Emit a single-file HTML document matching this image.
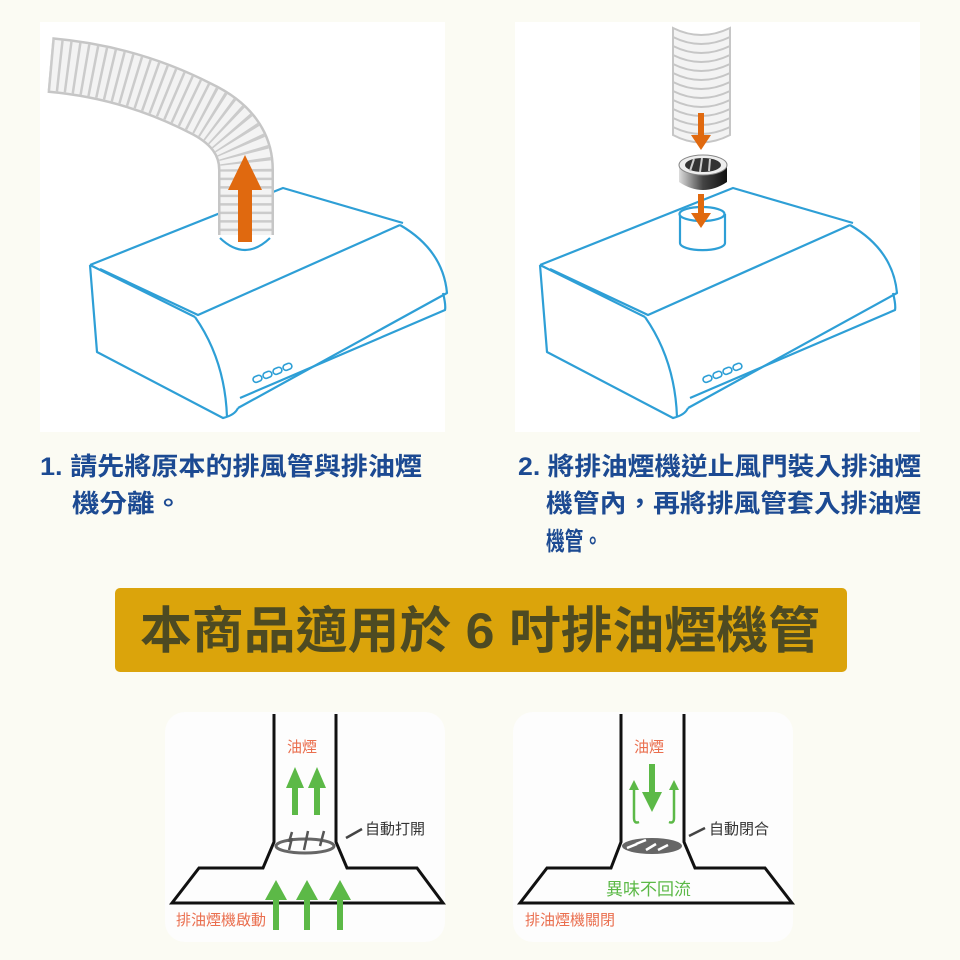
<!DOCTYPE html>
<html><head><meta charset="utf-8"><style>
body{margin:0;background:#fbfbf3;}
svg{display:block}
text{font-family:"Liberation Sans","Noto Sans CJK TC",sans-serif}
</style></head><body>
<svg width="960" height="960" viewBox="0 0 960 960" xmlns="http://www.w3.org/2000/svg">
<defs>
<linearGradient id="dg" x1="0" x2="1"><stop offset="0" stop-color="#ddd"/><stop offset=".5" stop-color="#444"/><stop offset="1" stop-color="#111"/></linearGradient>
<g id="hood" fill="none" stroke="#2e9fd6" stroke-width="2.2" stroke-linejoin="round">
<path d="M540 265 L733 188 L853 223"/>
<path d="M540 265 L645 317 M550 269 L648 315 L850 225"/>
<path d="M850 225 Q893 250 897 293 L688 408"/>
<path d="M540 265 L547 352 L673 418 Q685 415 688 408"/>
<path d="M645 317 Q675 360 677 417"/>
<path d="M893 293 Q896 305 895 310 L690 398"/>
<g stroke-width="1.6"><rect x="703" y="376" width="9" height="6" rx="3" transform="rotate(-22 707 379)"/><rect x="713" y="372" width="9" height="6" rx="3" transform="rotate(-22 717 375)"/><rect x="723" y="368" width="9" height="6" rx="3" transform="rotate(-22 727 371)"/><rect x="733" y="364" width="9" height="6" rx="3" transform="rotate(-22 737 367)"/></g>
</g>
</defs>
<rect x="40" y="22" width="405" height="410" fill="#fff"/>
<rect x="515" y="22" width="405" height="410" fill="#fff"/>
<!-- hood 1 -->
<use href="#hood" transform="translate(-450,0)"/>
<path d="M220 238 Q245 262 270 238" fill="none" stroke="#2e9fd6" stroke-width="2.2"/>
<!-- duct 1 -->
<path d="M50 65 Q130 72 200 108 Q246 130 246 170 L246 235" fill="none" stroke="#c6c6c6" stroke-width="56"/>
<path d="M50 65 Q130 72 200 108 Q246 130 246 170 L246 235" fill="none" stroke="#f3f3f3" stroke-width="51"/>
<path d="M50 65 Q130 72 200 108 Q246 130 246 170 L246 235" fill="none" stroke="#cbcbcb" stroke-width="51" stroke-dasharray="2.5 6"/>
<path d="M238 242 L238 190 L228 190 L245 155 L262 190 L252 190 L252 242 Z" fill="#e0690f"/>
<!-- hood 2 -->
<use href="#hood"/>
<path d="M680 214 L680 243 A22 7 0 0 0 725 243 L725 214" fill="#fff" stroke="#2e9fd6" stroke-width="2.2"/>
<ellipse cx="702" cy="214" rx="22.5" ry="7" fill="#fff" stroke="#2e9fd6" stroke-width="2.2"/>
<!-- duct 2 -->
<path d="M673 28 Q701 42 730 28 L730 135 Q701 150 673 135 Z" fill="#f3f3f3" stroke="#c6c6c6" stroke-width="2"/>
<g fill="none" stroke="#c6c6c6" stroke-width="2">
<path d="M673 37 Q701 51 730 37"/><path d="M673 46 Q701 60 730 46"/><path d="M673 55 Q701 69 730 55"/><path d="M673 64 Q701 78 730 64"/><path d="M673 73 Q701 87 730 73"/><path d="M673 82 Q701 96 730 82"/><path d="M673 91 Q701 105 730 91"/><path d="M673 100 Q701 114 730 100"/><path d="M673 109 Q701 123 730 109"/><path d="M673 118 Q701 132 730 118"/><path d="M673 127 Q701 141 730 127"/>
</g>
<!-- damper -->
<path d="M679 165 L679 182 Q703 198 727 182 L727 165 Z" fill="url(#dg)"/>
<ellipse cx="703" cy="165" rx="24" ry="10" fill="#eee" stroke="#888"/>
<ellipse cx="703" cy="165" rx="18" ry="7" fill="#333"/>
<path d="M694 159 L690 171 M702 158 L700 172 M710 159 L709 171" stroke="#ccc" stroke-width="2"/>
<path d="M698 113 L698 135 L691 135 L701 150 L711 135 L704 135 L704 113Z" fill="#e0690f"/>
<path d="M698 194 L698 213 L691 213 L701 228 L711 213 L704 213 L704 194Z" fill="#e0690f"/>
<!-- text -->
<g fill="#1c4a92" font-weight="bold" font-size="25">
<text x="40" y="475" textLength="382" lengthAdjust="spacingAndGlyphs">1. 請先將原本的排風管與排油煙</text>
<text x="72" y="512" textLength="110" lengthAdjust="spacingAndGlyphs">機分離。</text>
<text x="518" y="475" textLength="403" lengthAdjust="spacingAndGlyphs">2. 將排油煙機逆止風門裝入排油煙</text>
<text x="546" y="512" textLength="375" lengthAdjust="spacingAndGlyphs">機管內，再將排風管套入排油煙</text>
<text x="546" y="550" textLength="56" lengthAdjust="spacingAndGlyphs">機管。</text>
</g>
<rect x="115" y="588" width="732" height="84" rx="5" fill="#dba40b"/>
<text x="140" y="648" font-size="50" font-weight="bold" fill="#4d4a22" textLength="680" lengthAdjust="spacingAndGlyphs">本商品適用於 6 吋排油煙機管</text>
<!-- bottom diagrams -->
<rect x="165" y="712" width="280" height="230" rx="20" fill="#fdfdfd"/>
<rect x="513" y="712" width="280" height="230" rx="20" fill="#fdfdfd"/>
<g fill="none" stroke="#111" stroke-width="3" stroke-linejoin="miter">
<path d="M274 714 L274 842 L263 868 L199 868 L172 903 L443 903 L417 868 L347 868 L336 842 L336 714"/>
<path d="M621 714 L621 842 L611 868 L547 868 L520 903 L792 903 L765 868 L695 868 L684 842 L684 714"/>
</g>
<ellipse cx="305" cy="846" rx="29" ry="7" fill="none" stroke="#666" stroke-width="3"/>
<path d="M292 838 L289 850 M308 831 L304 850 M324 831 L320 846 M292 832 L289 842" stroke="#555" stroke-width="2.5"/>
<path d="M346 838 L362 829" stroke="#444" stroke-width="2.5"/>
<path d="M689 836 L705 828" stroke="#444" stroke-width="2.5"/>
<ellipse cx="652" cy="846" rx="30" ry="8" fill="#666"/>
<path d="M636 844 L646 840 M646 850 L656 844 M658 850 L668 845 M627 848 L637 844" stroke="#fff" stroke-width="2.5"/>
<!-- green arrows -->
<g fill="#5cb947">
<path d="M292 815 L292 788 L286 788 L295 767 L304 788 L298 788 L298 815Z"/>
<path d="M314 815 L314 788 L308 788 L317 767 L326 788 L320 788 L320 815Z"/>
<path d="M273 930 L273 900 L265 900 L276 880 L287 900 L279 900 L279 930Z"/>
<path d="M304 930 L304 900 L296 900 L307 880 L318 900 L310 900 L310 930Z"/>
<path d="M337 930 L337 900 L329 900 L340 880 L351 900 L343 900 L343 930Z"/>
<path d="M649 764 L649 792 L642 792 L652 812 L662 792 L655 792 L655 764Z"/>
</g>
<g fill="none" stroke="#5cb947" stroke-width="2.5">
<path d="M634 787 L634 818 Q634 824 639 822"/>
<path d="M674 787 L674 818 Q674 824 669 822"/>
</g>
<path d="M629 790 L634 780 L639 790Z M669 790 L674 780 L679 790Z" fill="#5cb947"/>
<g font-size="15">
<text x="287" y="752" fill="#ea6f4f">油煙</text>
<text x="634" y="752" fill="#ea6f4f">油煙</text>
<text x="365" y="834" fill="#333">自動打開</text>
<text x="709" y="834" fill="#333">自動閉合</text>
<text x="176" y="925" fill="#ea6f4f">排油煙機啟動</text>
<text x="525" y="925" fill="#ea6f4f">排油煙機關閉</text>
<text x="606" y="895" fill="#5cb947" font-size="17">異味不回流</text>
</g>
</svg>
</body></html>
